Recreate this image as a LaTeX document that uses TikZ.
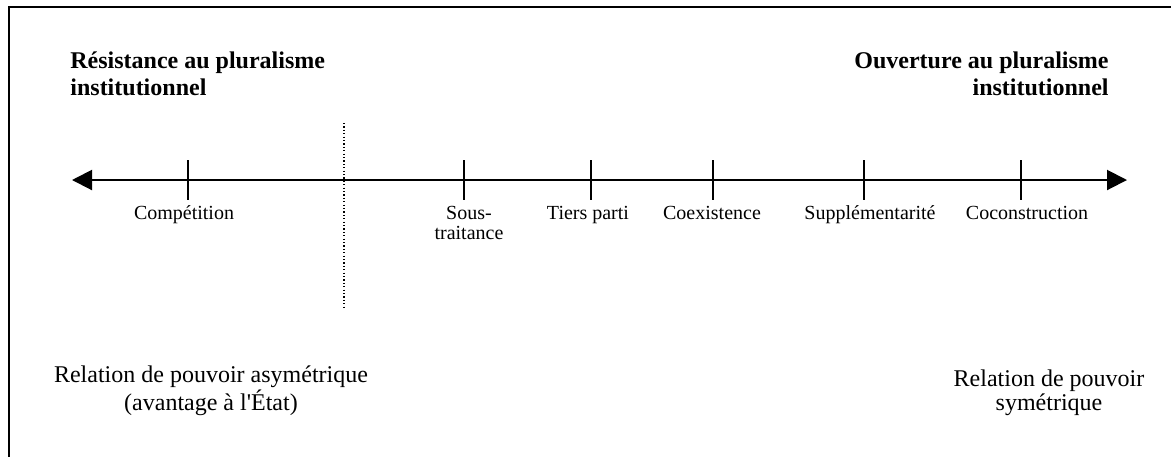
\documentclass[tikz,border=0pt]{standalone}
\usepackage{fontspec}
\setmainfont{Liberation Serif}
\usetikzlibrary{arrows.meta}

\begin{document}
\begin{tikzpicture}[x=0.5pt,y=-0.5pt,
    titre/.style={font=\bfseries\fontsize{12}{13.5}\selectfont, inner sep=0pt},
    etiq/.style={font=\fontsize{10}{10}\selectfont, align=center, inner sep=0pt, anchor=base},
    relation/.style={font=\fontsize{12}{12}\selectfont, align=center, inner sep=0pt, anchor=base}]
    \useasboundingbox (0,0) rectangle (1171,457);
    % cadre
    \coordinate (haut) at (1171,7);
    \coordinate (coin) at (9,7);
    \coordinate (bas) at (9,457);
    \draw[line width=1pt] (haut) -- (coin) -- (bas);
    % titres
    \node[titre, anchor=base west, align=left] (resistance) at (70,95)
      {R\'esistance au pluralisme\\institutionnel};
    \node[titre, anchor=base east, align=right] (ouverture) at (1109,95)
      {Ouverture au pluralisme\\institutionnel};
    % axe
    \coordinate (gauche) at (72,180);
    \coordinate (droite) at (1127,180);
    \draw[line width=1pt, {Triangle[length=10pt,width=10pt]}-{Triangle[length=10pt,width=10pt]}]
      (gauche) -- (droite);
    \foreach \x/\lx/\ly/\nom/\lab in {188/184/219/competition/{Comp\'etition},
        464/469/239/soustraitance/{Sous-\\traitance},
        591/588/219/tiers/{Tiers parti},
        713/712/219/coexistence/{Coexistence},
        864/870/219/supplementarite/{Suppl\'ementarit\'e},
        1021/1027/219/coconstruction/{Coconstruction}}
    {
      \coordinate (\nom-h) at (\x,160);
      \coordinate (\nom-b) at (\x,200);
      \draw[line width=1pt] (\nom-h) -- (\nom-b);
      \node[etiq] (\nom) at (\lx,\ly) {\lab};
    }
    % separation
    \coordinate (sep-h) at (344,123);
    \coordinate (sep-b) at (344,309);
    \draw[line width=0.6pt, dash pattern=on 0.6pt off 1.1pt] (sep-h) -- (sep-b);
    % relations
    \node[relation] (asym) at (211,410) {Relation de pouvoir asym\'etrique\\(avantage \`a l\textquotesingle\'Etat)};
    \node[relation] (sym) at (1049,410) {Relation de pouvoir\\sym\'etrique};
\end{tikzpicture}
\end{document}
